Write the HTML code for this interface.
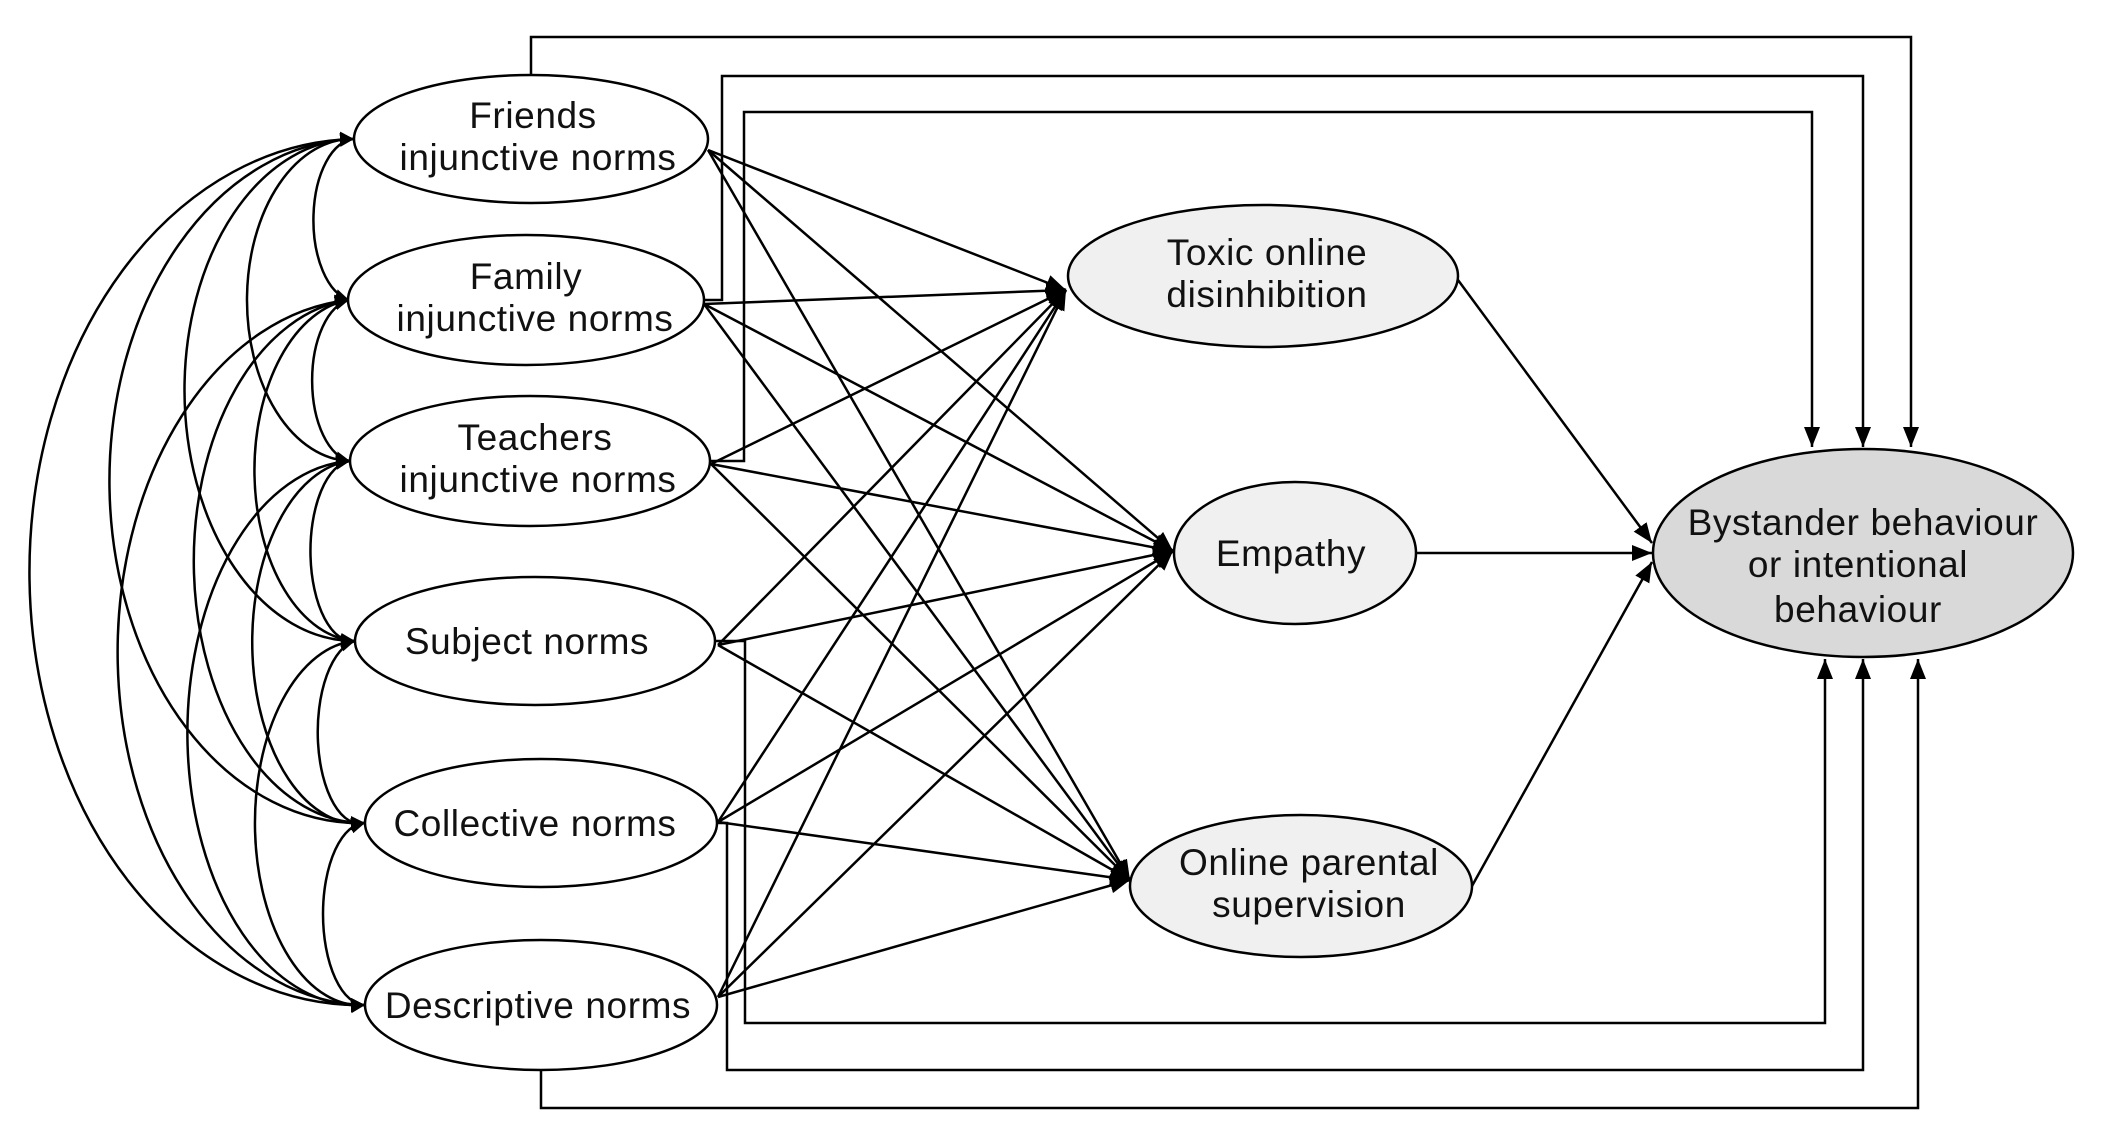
<!DOCTYPE html>
<html><head><meta charset="utf-8"><style>
html,body{margin:0;padding:0;background:#fff;}
svg{display:block;}
text{font-family:"Liberation Sans",sans-serif;font-size:37px;letter-spacing:0.6px;fill:#111;text-anchor:middle;}
</style></head><body>
<svg width="2103" height="1122" viewBox="0 0 2103 1122" xmlns="http://www.w3.org/2000/svg">
<defs>
<marker id="a" viewBox="0 0 10 10" refX="10" refY="5" markerWidth="14" markerHeight="14" markerUnits="userSpaceOnUse" orient="auto-start-reverse"><path d="M0,0 L10,5 L0,10 z" fill="#000"/></marker>
<marker id="b" viewBox="0 0 10 10" refX="10" refY="5" markerWidth="20" markerHeight="20" markerUnits="userSpaceOnUse" orient="auto-start-reverse"><path d="M0,1 L10,5 L0,9 z" fill="#000"/></marker>
</defs>
<g fill="none" stroke="#000" stroke-width="2.5">
<path d="M354,139 A42,81 0 0 0 349,300" marker-start="url(#a)" marker-end="url(#a)"/>
<path d="M349,300 A42,81 0 0 0 350,461" marker-start="url(#a)" marker-end="url(#a)"/>
<path d="M350,461 A42,90 0 0 0 355,641" marker-start="url(#a)" marker-end="url(#a)"/>
<path d="M355,641 A42,91 0 0 0 365,823" marker-start="url(#a)" marker-end="url(#a)"/>
<path d="M365,823 A42,91 0 0 0 365,1005" marker-start="url(#a)" marker-end="url(#a)"/>
<path d="M354,139 A105,161 0 0 0 350,461" marker-start="url(#a)" marker-end="url(#a)"/>
<path d="M349,300 A105,171 0 0 0 355,641" marker-start="url(#a)" marker-end="url(#a)"/>
<path d="M350,461 A105,181 0 0 0 365,823" marker-start="url(#a)" marker-end="url(#a)"/>
<path d="M355,641 A105,182 0 0 0 365,1005" marker-start="url(#a)" marker-end="url(#a)"/>
<path d="M354,139 A170,251 0 0 0 355,641" marker-start="url(#a)" marker-end="url(#a)"/>
<path d="M349,300 A170,262 0 0 0 365,823" marker-start="url(#a)" marker-end="url(#a)"/>
<path d="M350,461 A170,272 0 0 0 365,1005" marker-start="url(#a)" marker-end="url(#a)"/>
<path d="M354,139 A250,342 0 0 0 365,823" marker-start="url(#a)" marker-end="url(#a)"/>
<path d="M349,300 A250,353 0 0 0 365,1005" marker-start="url(#a)" marker-end="url(#a)"/>
<path d="M354,139 A330,433 0 0 0 365,1005" marker-start="url(#a)" marker-end="url(#a)"/>
<path d="M531,74 V37 H1911 V447" marker-end="url(#b)"/>
<path d="M704,300 H722 V76 H1863 V447" marker-end="url(#b)"/>
<path d="M710,461 H744 V112 H1812 V447" marker-end="url(#b)"/>
<path d="M716,641 H745 V1023 H1825 V659" marker-end="url(#b)"/>
<path d="M717,823 H727 V1070 H1863 V659" marker-end="url(#b)"/>
<path d="M541,1070 V1108 H1918 V659" marker-end="url(#b)"/>
<g marker-end="url(#b)">
<path d="M708,150 L1066,290"/><path d="M708,150 L1173,551"/><path d="M708,150 L1130,880"/>
<path d="M704,304 L1066,290"/><path d="M704,304 L1173,551"/><path d="M704,304 L1130,880"/>
<path d="M711,464 L1066,290"/><path d="M711,464 L1173,551"/><path d="M711,464 L1130,880"/>
<path d="M718,645 L1066,290"/><path d="M718,645 L1173,551"/><path d="M718,645 L1130,880"/>
<path d="M718,822 L1066,290"/><path d="M718,822 L1173,551"/><path d="M718,822 L1130,880"/>
<path d="M718,997 L1066,290"/><path d="M718,997 L1173,551"/><path d="M718,997 L1130,880"/>
<path d="M1458,280 L1652,543"/><path d="M1415,553 L1652,553"/><path d="M1472,886 L1652,562"/>
</g>
</g>
<g stroke="#000" stroke-width="2.5">
<ellipse cx="531" cy="139" rx="177" ry="64" fill="#fff"/>
<ellipse cx="526" cy="300" rx="178" ry="65" fill="#fff"/>
<ellipse cx="530" cy="461" rx="180" ry="65" fill="#fff"/>
<ellipse cx="535" cy="641" rx="180" ry="64" fill="#fff"/>
<ellipse cx="541" cy="823" rx="176" ry="64" fill="#fff"/>
<ellipse cx="541" cy="1005" rx="176" ry="65" fill="#fff"/>
<ellipse cx="1263" cy="276" rx="195" ry="71" fill="#f0f0f0"/>
<ellipse cx="1295" cy="553" rx="121" ry="71" fill="#f0f0f0"/>
<ellipse cx="1301" cy="886" rx="171" ry="71" fill="#f0f0f0"/>
<ellipse cx="1863" cy="553" rx="210" ry="104" fill="#d9d9d9"/>
</g>
<text x="533" y="128">Friends</text><text x="538" y="170">injunctive norms</text>
<text x="526" y="289">Family</text><text x="535" y="331">injunctive norms</text>
<text x="535" y="450">Teachers</text><text x="538" y="492">injunctive norms</text>
<text x="527" y="654">Subject norms</text>
<text x="535" y="836">Collective norms</text>
<text x="538" y="1018">Descriptive norms</text>
<text x="1267" y="265">Toxic online</text><text x="1267" y="307">disinhibition</text>
<text x="1291" y="566">Empathy</text>
<text x="1309" y="875">Online parental</text><text x="1309" y="917">supervision</text>
<text x="1863" y="535">Bystander behaviour</text><text x="1858" y="577">or intentional</text><text x="1858" y="622">behaviour</text>
</svg>
</body></html>
